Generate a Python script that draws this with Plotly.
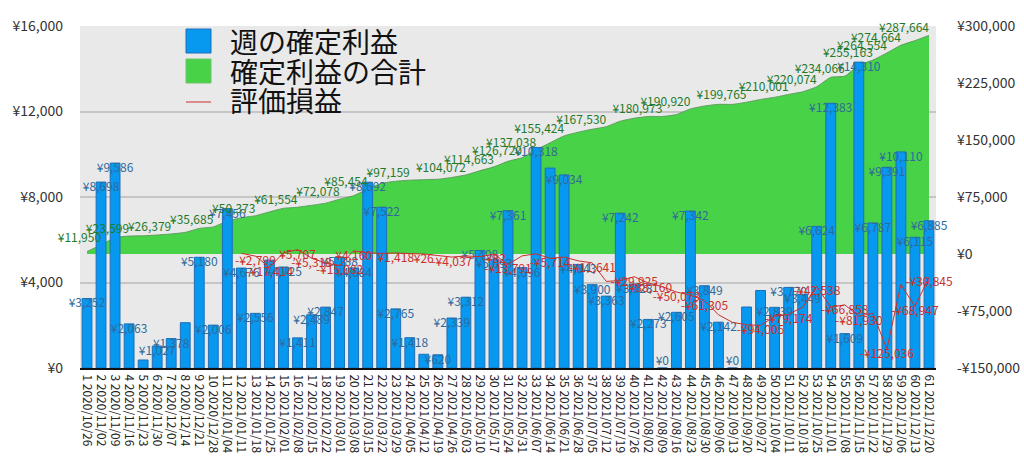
import plotly.graph_objects as go

# ---------------- data ----------------
weeks = [
    "1 2020/10/26", "2 2020/11/02", "3 2020/11/09", "4 2020/11/16", "5 2020/11/23",
    "6 2020/11/30", "7 2020/12/07", "8 2020/12/14", "9 2020/12/21", "10 2020/12/28",
    "11 2021/01/04", "12 2021/01/11", "13 2021/01/18", "14 2021/01/25", "15 2021/02/01",
    "16 2021/02/08", "17 2021/02/15", "18 2021/02/22", "19 2021/03/01", "20 2021/03/08",
    "21 2021/03/15", "22 2021/03/22", "23 2021/03/29", "24 2021/04/05", "25 2021/04/12",
    "26 2021/04/19", "27 2021/04/26", "28 2021/05/03", "29 2021/05/10", "30 2021/05/17",
    "31 2021/05/24", "32 2021/05/31", "33 2021/06/07", "34 2021/06/14", "35 2021/06/21",
    "36 2021/06/28", "37 2021/07/05", "38 2021/07/12", "39 2021/07/19", "40 2021/07/26",
    "41 2021/08/02", "42 2021/08/09", "43 2021/08/16", "44 2021/08/23", "45 2021/08/30",
    "46 2021/09/06", "47 2021/09/13", "48 2021/09/20", "49 2021/09/27", "50 2021/10/04",
    "51 2021/10/11", "52 2021/10/18", "53 2021/10/25", "54 2021/11/01", "55 2021/11/08",
    "56 2021/11/15", "57 2021/11/22", "58 2021/11/29", "59 2021/12/06", "60 2021/12/13",
    "61 2021/12/20",
]

weekly_profit = [
    3252, 8698, 9586, 2063, 375, 1027, 1378, 2120, 5180, 2006,
    7456, 4676, 2556, 5045, 4725, 1411, 2489, 2847, 5188, 4684,
    8692, 7522, 2765, 1418, 642, 620, 2339, 3312, 5498, 5093,
    7361, 4696, 10318, 9352, 9034, 4843, 3900, 3363, 7242, 3928,
    2273, 0, 2605, 7342, 3849, 2142, 0, 2854, 3627, 2839,
    3770, 3449, 6624, 12383, 1609, 14310, 6787, 9391, 10110, 6115,
    6885,
]

cumulative_profit = [
    3252, 11950, 21536, 23599, 23974, 25001, 26379, 28499, 33679, 35685,
    43141, 47817, 50373, 55418, 60143, 61554, 64043, 66890, 72078, 76762,
    85454, 92976, 95741, 97159, 97801, 98421, 100760, 104072, 109570, 114663,
    122024, 126720, 137038, 146390, 155424, 160267, 164167, 167530, 174772, 178700,
    180973, 180973, 183578, 190920, 194769, 196911, 196911, 199765, 203392, 206231,
    210001, 213450, 220074, 232457, 234066, 248376, 255163, 264554, 274664, 280779,
    287664,
]

unrealized = [
    None, None, None, None, None, None, None, None, None, None,
    None, 900, -2799, -17414, 1500, 5707, -5318, -12000, -15082, 4160,
    1500, 800, 1418, 500, 26, -2000, -4037, -2600, -3500, -82,
    -13791, -2500, 300, -5714, -4000, -9000, -11641, -36000, -35000, -29925,
    -38160, -43000, -50073, -54000, -61305, -80000, -90000, -93000, -94005, -82000,
    -79174, -70000, -42538, -70000, -66858, -81930, -78000, -125036, -40000, -68947,
    -30845,
]

# weeks (1-based) whose value labels are visible in the chart
bar_label_hidden = [5, 8, 14, 25, 34, 48, 49]
cum_label_weeks = [2, 4, 7, 10, 13, 16, 19, 21, 24, 28, 30, 32, 33, 35, 38, 42,
                   44, 48, 51, 53, 55, 57, 58, 59, 61]
unreal_label_weeks = [13, 14, 16, 17, 19, 20, 23, 25, 27, 30, 31, 34, 37, 40, 41,
                      43, 45, 49, 51, 53, 55, 56, 58, 60, 61]

left_ticks = [0, 4000, 8000, 12000, 16000]
right_ticks = [-150000, -75000, 0, 75000, 150000, 225000, 300000]
legend_names = ["週の確定利益", "確定利益の合計", "評価損益"]

# ---------------- helpers ----------------
def yen(v):
    v = int(v)
    return ("-¥{:,}" if v < 0 else "¥{:,}").format(abs(v))

LEFT_RANGE = [0, 16000]
RIGHT_RANGE = [-150000, 300000]
FONT = "Noto Sans CJK JP, Noto Sans, sans-serif"

BLUE = "#0798f0"
BLUE_EDGE = "#1e6fb8"
GREEN = "#47d247"
RED = "#c9302c"

n = len(weeks)
bar_text = ["" if (i + 1) in bar_label_hidden else yen(v) for i, v in enumerate(weekly_profit)]
bar_textpos = ["top center" if v == 0 else "bottom center" for v in weekly_profit]
cum_text = [yen(v) if (i + 1) in cum_label_weeks else "" for i, v in enumerate(cumulative_profit)]
unreal_text = [yen(v) if (v is not None and (i + 1) in unreal_label_weeks) else ""
               for i, v in enumerate(unrealized)]

fig = go.Figure()

# cumulative area (bottom layer, right scale)
fig.add_trace(go.Scatter(
    x=weeks, y=cumulative_profit, yaxis="y", mode="lines",
    fill="tozeroy", fillcolor=GREEN,
    line=dict(color="rgba(90,150,90,0.9)", width=1, shape="spline", smoothing=0.5),
    showlegend=False, hoverinfo="skip",
))

# weekly bars (left scale)
fig.add_trace(go.Bar(
    x=weeks, y=weekly_profit, yaxis="y2",
    marker=dict(color=BLUE, line=dict(color=BLUE_EDGE, width=1)),
    width=0.7, showlegend=False, hoverinfo="skip",
))
fig.add_trace(go.Scatter(
    x=weeks, y=weekly_profit, yaxis="y2", mode="text",
    text=bar_text, textposition=bar_textpos, cliponaxis=False,
    textfont=dict(family=FONT, size=12, color="#2f6a9c"),
    showlegend=False, hoverinfo="skip",
))

# unrealized line (right scale, top layer)
fig.add_trace(go.Scatter(
    x=weeks, y=unrealized, yaxis="y3", mode="lines",
    line=dict(color=RED, width=1),
    showlegend=False, hoverinfo="skip", connectgaps=False,
))
fig.add_trace(go.Scatter(
    x=weeks, y=unrealized, yaxis="y3", mode="text",
    text=unreal_text, textposition="bottom center", cliponaxis=False,
    textfont=dict(family=FONT, size=12, color=RED),
    showlegend=False, hoverinfo="skip",
))
fig.add_trace(go.Scatter(
    x=weeks, y=cumulative_profit, yaxis="y3", mode="text",
    text=cum_text, textposition="top left", cliponaxis=False,
    textfont=dict(family=FONT, size=12, color="#1f7a2a"),
    showlegend=False, hoverinfo="skip",
))

# grid lines for the left scale, drawn on the bottom axis (under the area)
grid_vals = [RIGHT_RANGE[0] + (v - LEFT_RANGE[0]) / (LEFT_RANGE[1] - LEFT_RANGE[0])
             * (RIGHT_RANGE[1] - RIGHT_RANGE[0]) for v in left_ticks]

fig.update_layout(
    width=1024, height=475, autosize=False,
    margin=dict(l=80, r=88, t=26, b=107),
    paper_bgcolor="white", plot_bgcolor="#e9e9e9",
    font=dict(family=FONT, color="#333"),
    bargap=0.3,
    xaxis=dict(
        type="category", range=[-0.5, n - 0.5], autorange=False,
        tickmode="array", tickvals=weeks, ticktext=weeks,
        tickangle=90, showgrid=False, zeroline=False,
        showline=True, linecolor="#111", linewidth=2,
        tickfont=dict(family=FONT, size=12, color="#222"),
        ticks="", ticklabelstandoff=2, automargin=False,
    ),
    yaxis=dict(
        range=RIGHT_RANGE, autorange=False, side="right", tickmode="array",
        tickvals=right_ticks, ticktext=[yen(v) for v in right_ticks],
        showgrid=False, zeroline=False, automargin=False,
        tickfont=dict(family=FONT, size=14, color="#333"),
        ticklabelstandoff=20,
        minor=dict(tickmode="array", tickvals=grid_vals, showgrid=True,
                   gridcolor="#c6c6c6", gridwidth=1.5, ticks=""),
    ),
    yaxis2=dict(
        range=LEFT_RANGE, autorange=False, side="left", overlaying="y", tickmode="array",
        tickvals=left_ticks, ticktext=[yen(v) for v in left_ticks],
        showgrid=False, zeroline=False, automargin=False,
        tickfont=dict(family=FONT, size=14, color="#333"),
        ticklabelstandoff=16,
    ),
    yaxis3=dict(range=RIGHT_RANGE, autorange=False, overlaying="y", visible=False),
)

# manual legend (large symbols)
px0 = 80
pw = 856
ph = 342
def xp(px):
    return (px - px0) / pw
def yp(py):
    return (368 - py) / ph

fig.add_shape(type="rect", xref="paper", yref="paper",
              x0=xp(186), x1=xp(211), y0=yp(53), y1=yp(29),
              fillcolor=BLUE, line=dict(color=BLUE_EDGE, width=1))
fig.add_shape(type="rect", xref="paper", yref="paper",
              x0=xp(186), x1=xp(211), y0=yp(83), y1=yp(59),
              fillcolor=GREEN, line=dict(color="#6cc46c", width=1))
fig.add_shape(type="line", xref="paper", yref="paper",
              x0=xp(186), x1=xp(211), y0=yp(102), y1=yp(102),
              line=dict(color=RED, width=1))
for name, cy in zip(legend_names, [41, 71, 100]):
    fig.add_annotation(xref="paper", yref="paper", x=xp(228), y=yp(cy),
                       text=name, showarrow=False, xanchor="left", yanchor="middle",
                       font=dict(family=FONT, size=28, color="#111"))

fig.write_html("out.html", config={"displayModeBar": False},
               post_script="document.body.style.margin='0';")
